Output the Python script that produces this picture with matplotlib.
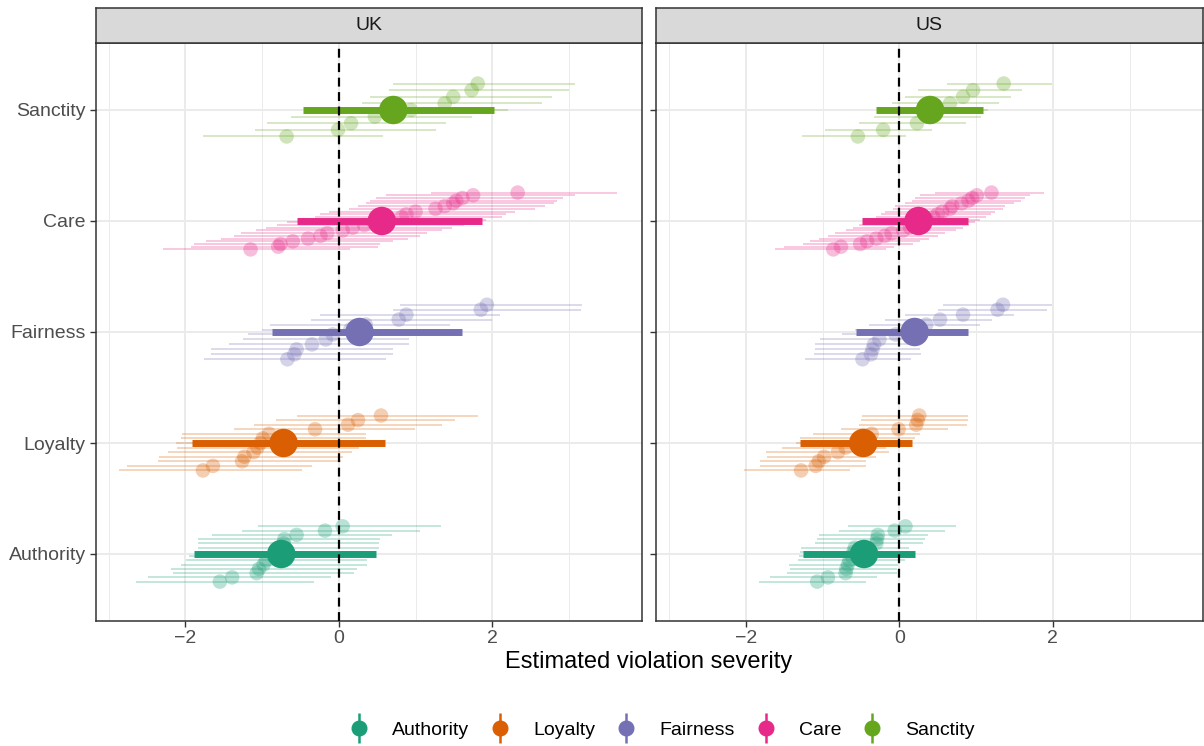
import numpy as np
import matplotlib.pyplot as plt
from matplotlib.lines import Line2D
from matplotlib.legend_handler import HandlerTuple

plt.rcParams['font.family'] = ['Liberation Sans', 'DejaVu Sans']

foundations = ['Authority', 'Loyalty', 'Fairness', 'Care', 'Sanctity']
countries = ['UK', 'US']
colours = ['#1B9E77', '#D95F02', '#7570B3', '#E7298A', '#66A61E']

# overall (pooled) estimates per foundation, order = foundations
uk_est = [-0.75, -0.72, 0.27, 0.56, 0.71]
uk_lo = [-1.89, -1.91, -0.87, -0.54, -0.47]
uk_hi = [0.48, 0.60, 1.60, 1.86, 2.02]
us_est = [-0.46, -0.47, 0.20, 0.25, 0.40]
us_lo = [-1.25, -1.29, -0.56, -0.48, -0.31]
us_hi = [0.21, 0.16, 0.90, 0.90, 1.09]

# item-level estimates (top to bottom within each foundation)
uk_authority_est = [0.05, -0.18, -0.55, -0.71, -0.72, -0.73, -0.78, -0.85, -0.95, -0.98, -1.04, -1.07, -1.39, -1.55]
uk_authority_lo = [-1.05, -1.26, -1.65, -1.83, -1.83, -1.83, -1.88, -1.95, -1.99, -2.06, -2.18, -2.16, -2.48, -2.64]
uk_authority_hi = [1.33, 1.06, 0.69, 0.54, 0.53, 0.53, 0.48, 0.40, 0.37, 0.37, 0.24, 0.20, -0.10, -0.32]

uk_loyalty_est = [0.55, 0.25, 0.12, -0.31, -0.91, -0.99, -1.02, -1.06, -1.11, -1.23, -1.26, -1.64, -1.77]
uk_loyalty_lo = [-0.54, -0.82, -1.10, -1.37, -2.04, -2.05, -2.12, -2.11, -2.23, -2.34, -2.36, -2.76, -2.86]
uk_loyalty_hi = [1.81, 1.51, 1.34, 0.99, 0.36, 0.35, 0.28, 0.26, 0.17, 0.05, 0.03, -0.35, -0.48]

uk_fairness_est = [1.93, 1.85, 0.88, 0.78, 0.35, 0.15, -0.08, -0.17, -0.35, -0.55, -0.58, -0.67]
uk_fairness_lo = [0.80, 0.70, -0.25, -0.36, -0.90, -1.00, -1.18, -1.25, -1.43, -1.67, -1.67, -1.76]
uk_fairness_hi = [3.17, 3.15, 2.10, 1.99, 1.45, 1.30, 1.13, 0.92, 0.92, 0.71, 0.71, 0.61]

uk_care_est = [2.33, 1.75, 1.61, 1.53, 1.49, 1.38, 1.26, 1.00, 0.88, 0.82, 0.62, 0.45, 0.33, 0.18, 0.05, -0.15, -0.24, -0.40, -0.60, -0.76, -0.79, -1.15]
uk_care_lo = [1.20, 0.61, 0.48, 0.40, 0.36, 0.25, 0.13, -0.13, -0.25, -0.31, -0.51, -0.68, -0.80, -0.95, -1.08, -1.28, -1.37, -1.53, -1.73, -1.89, -1.92, -2.29]
uk_care_hi = [3.63, 3.08, 2.92, 2.84, 2.80, 2.68, 2.56, 2.30, 2.18, 2.12, 1.92, 1.75, 1.63, 1.48, 1.35, 1.15, 1.06, 0.90, 0.70, 0.54, 0.51, 0.15]

uk_sanctity_est = [1.81, 1.73, 1.49, 1.38, 0.94, 0.47, 0.16, -0.01, -0.68]
uk_sanctity_lo = [0.71, 0.66, 0.40, 0.30, -0.20, -0.62, -0.93, -1.09, -1.77]
uk_sanctity_hi = [3.08, 3.00, 2.78, 2.65, 2.21, 1.74, 1.40, 1.26, 0.57]

us_authority_est = [0.08, -0.06, -0.28, -0.29, -0.30, -0.58, -0.60, -0.62, -0.65, -0.67, -0.69, -0.70, -0.93, -1.07]
us_authority_lo = [-0.67, -0.79, -1.05, -1.07, -1.10, -1.28, -1.30, -1.31, -1.32, -1.44, -1.43, -1.46, -1.68, -1.83]
us_authority_hi = [0.74, 0.59, 0.38, 0.33, 0.31, 0.12, 0.10, 0.09, 0.08, -0.02, -0.03, -0.03, -0.29, -0.43]

us_loyalty_est = [0.26, 0.24, 0.22, -0.01, -0.36, -0.45, -0.55, -0.70, -0.80, -0.98, -1.05, -1.09, -1.28]
us_loyalty_lo = [-0.49, -0.50, -0.52, -0.76, -1.12, -1.30, -1.35, -1.53, -1.74, -1.73, -1.82, -1.81, -2.02]
us_loyalty_hi = [0.90, 0.89, 0.88, 0.63, 0.27, 0.20, 0.10, -0.17, -0.14, -0.30, -0.44, -0.44, -0.64]

us_fairness_est = [1.35, 1.28, 0.83, 0.53, 0.35, 0.15, -0.05, -0.26, -0.33, -0.35, -0.37, -0.48]
us_fairness_lo = [0.57, 0.51, 0.08, -0.19, -0.40, -0.58, -0.75, -1.03, -1.10, -1.10, -1.11, -1.23]
us_fairness_hi = [1.99, 1.92, 1.49, 1.21, 1.05, 0.88, 0.68, 0.29, 0.27, 0.27, 0.28, 0.15]

us_care_est = [1.20, 1.01, 0.95, 0.90, 0.81, 0.69, 0.66, 0.56, 0.50, 0.44, 0.36, 0.30, 0.22, 0.14, 0.05, -0.10, -0.19, -0.30, -0.42, -0.51, -0.76, -0.86]
us_care_lo = [0.46, 0.27, 0.21, 0.16, 0.07, -0.05, -0.08, -0.18, -0.24, -0.30, -0.38, -0.44, -0.52, -0.60, -0.69, -0.84, -0.93, -1.04, -1.16, -1.25, -1.50, -1.62]
us_care_hi = [1.89, 1.70, 1.64, 1.59, 1.50, 1.38, 1.35, 1.25, 1.19, 1.13, 1.05, 0.99, 0.91, 0.83, 0.74, 0.59, 0.50, 0.39, 0.27, 0.18, -0.07, -0.17]

us_sanctity_est = [1.36, 0.96, 0.83, 0.66, 0.50, 0.37, 0.23, -0.21, -0.54]
us_sanctity_lo = [0.62, 0.24, 0.07, -0.10, -0.22, -0.33, -0.52, -0.97, -1.27]
us_sanctity_hi = [1.99, 1.60, 1.46, 1.30, 1.16, 1.06, 0.87, 0.43, 0.09]

overall = {
    'UK': (uk_est, uk_lo, uk_hi),
    'US': (us_est, us_lo, us_hi),
}
items = {
    'UK': [(uk_authority_est, uk_authority_lo, uk_authority_hi),
           (uk_loyalty_est, uk_loyalty_lo, uk_loyalty_hi),
           (uk_fairness_est, uk_fairness_lo, uk_fairness_hi),
           (uk_care_est, uk_care_lo, uk_care_hi),
           (uk_sanctity_est, uk_sanctity_lo, uk_sanctity_hi)],
    'US': [(us_authority_est, us_authority_lo, us_authority_hi),
           (us_loyalty_est, us_loyalty_lo, us_loyalty_hi),
           (us_fairness_est, us_fairness_lo, us_fairness_hi),
           (us_care_est, us_care_lo, us_care_hi),
           (us_sanctity_est, us_sanctity_lo, us_sanctity_hi)],
}

W, H = 1204, 746
fig = plt.figure(figsize=(W / 100, H / 100), dpi=100)

dodge = 0.536
panel_left = {'UK': 95.5, 'US': 656}
panel_w = 546.5
top_px, bot_px = 43.4, 620.6

for country in countries:
    x0 = panel_left[country]
    ax = fig.add_axes([x0 / W, (H - bot_px) / H, panel_w / W, (bot_px - top_px) / H])

    ax.set_xlim(-3.17, 3.95)
    ax.set_ylim(0.4, 5.6)
    ax.set_xticks([-2, 0, 2])
    ax.set_xticklabels(['\u22122', '0', '2'])
    ax.set_xticks([-3, -1, 1, 3], minor=True)
    ax.set_yticks(range(1, 6))
    ax.grid(which='major', color='#EBEBEB', lw=1.4, zorder=0)
    ax.grid(which='minor', axis='x', color='#EBEBEB', lw=0.7, zorder=0)
    ax.set_axisbelow(True)
    ax.tick_params(axis='both', which='major', length=4, width=1, color='#333333',
                   labelcolor='#4D4D4D', labelsize=14, pad=3)
    ax.tick_params(which='minor', length=0)
    if country == 'UK':
        ax.set_yticklabels(foundations)
    else:
        ax.set_yticklabels([])
    for s in ax.spines.values():
        s.set_color('#333333')
        s.set_linewidth(1.1)

    for k, (est, lo, hi) in enumerate(items[country]):
        n = len(est)
        ys = (k + 1) + dodge / 2 - (np.arange(n) + 0.5) * dodge / n
        ax.hlines(ys, lo, hi, color=colours[k], alpha=0.3, lw=1.2, zorder=2)
        ax.scatter(est, ys, s=110, color=colours[k], alpha=0.3, edgecolors='none', zorder=3)

    est, lo, hi = overall[country]
    ypos = np.arange(1, 6)
    ax.hlines(ypos, lo, hi, colors=colours, lw=5, zorder=4)
    ax.scatter(est, ypos, s=420, c=colours, edgecolors='none', zorder=5)

    ax.axvline(0, color='black', ls=(0, (4, 2.5)), lw=1.6, zorder=6)

    # facet strip
    sax = fig.add_axes([x0 / W, (H - top_px) / H, panel_w / W, (top_px - 8) / H])
    sax.set_facecolor('#D9D9D9')
    sax.set_xticks([])
    sax.set_yticks([])
    for s in sax.spines.values():
        s.set_color('#333333')
        s.set_linewidth(1.1)
    sax.text(0.5, 0.5, country, ha='center', va='center', fontsize=14, color='#1A1A1A',
             transform=sax.transAxes)

fig.text(649 / W, 1 - 662 / H, 'Estimated violation severity', ha='center', va='center',
         fontsize=17, color='black')

handles = [(Line2D([0], [0], color=c, marker='|', ms=22, mew=1.8, ls='none'),
            Line2D([0], [0], color=c, marker='o', ms=10.5, ls='none')) for c in colours]
fig.legend(handles, foundations, handler_map={tuple: HandlerTuple(ndivide=1)},
           loc='center', bbox_to_anchor=(662 / W, 1 - 730 / H), ncol=5, frameon=False,
           fontsize=14, handlelength=1.0, columnspacing=1.1, handletextpad=1.2)

fig.savefig('out.png', dpi=100)
